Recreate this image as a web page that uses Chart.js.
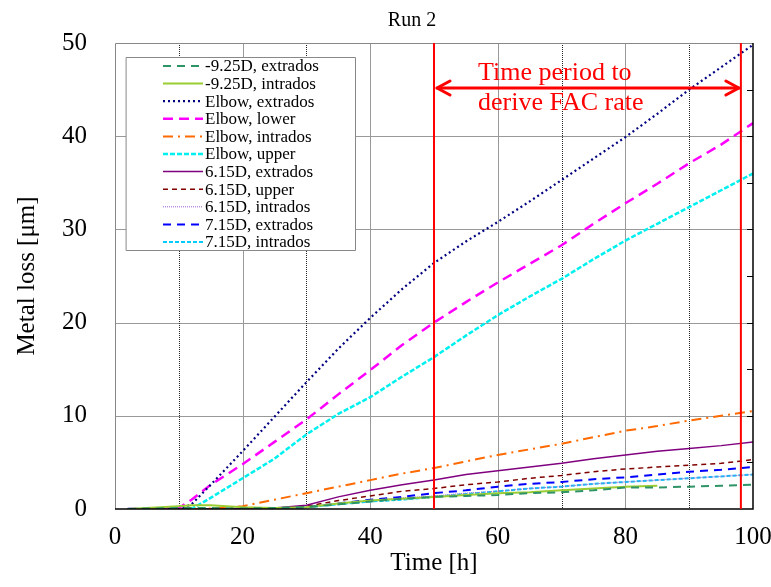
<!DOCTYPE html>
<html>
<head>
<meta charset="utf-8">
<script src="https://cdn.jsdelivr.net/npm/chart.js@4.4.0/dist/chart.umd.min.js"></script>
<style>
html, body { margin:0; padding:0; background:#fff; }
</style>
</head>
<body>
<canvas id="mycanvas" width="771" height="587"></canvas>
<script>
// metal loss [um] vs time [h], Run 2
var hours = [2, 5, 10, 12, 15, 20, 25, 30, 35, 40, 45, 50, 55, 60, 65, 70, 75, 80, 85, 90, 95, 100];

var m925Extrados  = [0, 0.05, 0.1, 0.1, 0.1, 0.05, 0.1, 0.2, 0.5, 0.8, 1.1, 1.3, 1.4, 1.5, 1.7, 1.8, 2.0, 2.3, 2.3, 2.4, 2.5, 2.6];
var m925Intrados  = [0, 0.1, 0.3, 0.4, 0.4, 0.2, 0.1, 0.2, 0.6, 0.9, 1.1, 1.3, 1.5, 1.7, 1.8, 2.0, 2.2, 2.4, 2.5, null, null, null];
var elbowExtrados = [0, 0, 0, 0.5, 2.6, 6.2, 9.9, 13.6, 17.2, 20.5, 23.6, 26.4, 28.7, 30.8, 33.0, 35.3, 37.6, 39.9, 42.4, 45.0, 47.4, 49.8];
var elbowLower    = [0, 0, 0.1, 1.0, 2.6, 4.8, 7.2, 9.6, 12.3, 14.9, 17.6, 20.0, 22.2, 24.3, 26.3, 28.3, 30.6, 32.8, 34.9, 37.1, 39.1, 41.4];
var elbowIntrados = [0, 0, 0, 0, 0.05, 0.3, 1.0, 1.7, 2.4, 3.1, 3.8, 4.4, 5.1, 5.8, 6.4, 7.0, 7.7, 8.4, 8.9, 9.5, 10.0, 10.5];
var elbowUpper    = [0, 0, 0, 0, 1.2, 3.3, 5.4, 8.0, 10.2, 12.0, 14.2, 16.3, 18.6, 20.8, 22.8, 24.7, 26.8, 28.8, 30.6, 32.4, 34.2, 36.0];
var d615Extrados  = [0, 0, 0, 0, 0, 0.05, 0.1, 0.4, 1.3, 2.0, 2.6, 3.1, 3.7, 4.1, 4.5, 4.9, 5.4, 5.8, 6.2, 6.5, 6.8, 7.2];
var d615Upper     = [0, 0, 0, 0, 0, 0, 0.05, 0.3, 0.9, 1.4, 1.9, 2.2, 2.6, 2.9, 3.3, 3.6, 4.0, 4.3, 4.5, 4.7, 4.9, 5.3];
var d615Intrados  = [0, 0, 0, 0, 0, 0, 0.05, 0.2, 0.6, 0.9, 1.2, 1.4, 1.7, 1.9, 2.2, 2.4, 2.7, 2.9, 3.1, 3.3, 3.5, 3.7];
var d715Extrados  = [0, 0, 0, 0, 0, 0, 0.05, 0.2, 0.6, 1.0, 1.3, 1.7, 2.0, 2.4, 2.7, 2.9, 3.2, 3.4, 3.7, 4.0, 4.2, 4.5];
var d715Intrados  = [0, 0, 0, 0, 0, 0, 0.05, 0.2, 0.5, 0.8, 1.0, 1.3, 1.6, 1.9, 2.2, 2.4, 2.7, 2.9, 3.1, 3.3, 3.5, 3.7];

var seriesNames = ['-9.25D, extrados', '-9.25D, intrados', 'Elbow, extrados', 'Elbow, lower',
	'Elbow, intrados', 'Elbow, upper', '6.15D, extrados', '6.15D, upper', '6.15D, intrados',
	'7.15D, extrados', '7.15D, intrados'];

// FAC rate window [h]
var periodStart = 50;
var periodEnd = 98.1;

var serif = "'Liberation Serif', 'Times New Roman', serif";

function pts(vals){
	var out = [];
	for(var i in hours){
		out.push({x: hours[i], y: vals[i]});
	}
	return out;
}

function ds(label, vals, color, width, dash){
	return {
		label: label,
		data: pts(vals),
		borderColor: color,
		borderWidth: width,
		borderDash: dash,
		pointRadius: 0,
		tension: 0,
		fill: false,
		spanGaps: false
	};
}

var chartdata = {
	datasets: [
		ds(seriesNames[0], m925Extrados, '#2e9466', 2, [8, 6]),
		ds(seriesNames[1], m925Intrados, '#9acd32', 2, []),
		ds(seriesNames[2], elbowExtrados, '#000080', 2.2, [2, 3]),
		ds(seriesNames[3], elbowLower, '#ff00ff', 2.5, [10, 6]),
		ds(seriesNames[4], elbowIntrados, '#ff6a00', 2, [10, 5, 2, 5]),
		ds(seriesNames[5], elbowUpper, '#00f0f0', 2.5, [5, 2]),
		ds(seriesNames[6], d615Extrados, '#800080', 1.5, []),
		ds(seriesNames[7], d615Upper, '#800000', 1.5, [5, 4]),
		ds(seriesNames[8], d615Intrados, '#9b5fd6', 1, [1, 1]),
		ds(seriesNames[9], d715Extrados, '#0000ff', 2, [8, 6]),
		ds(seriesNames[10], d715Intrados, '#00ccff', 2, [4, 2])
	]
};

// grid, frame, FAC window, title and legend
var decor = {
	id: 'decor',
	beforeDraw: function(chart){
		var ctx = chart.ctx;
		ctx.save();
		ctx.fillStyle = '#fff';
		ctx.fillRect(0, 0, chart.width, chart.height);
		ctx.restore();
	},
	beforeDatasetsDraw: function(chart){
		var ctx = chart.ctx, a = chart.chartArea;
		var xs = chart.scales.x, ys = chart.scales.y;
		ctx.save();
		for(var v = 10; v < 50; v += 10){
			var py = Math.round(ys.getPixelForValue(v)) + 0.5;
			ctx.strokeStyle = '#999';
			ctx.lineWidth = 1;
			ctx.setLineDash([]);
			ctx.beginPath(); ctx.moveTo(a.left, py); ctx.lineTo(a.right, py); ctx.stroke();
		}
		for(var t = 10; t < 100; t += 10){
			var px = Math.round(xs.getPixelForValue(t)) + 0.5;
			if(t % 20 == 0){
				ctx.strokeStyle = '#999';
				ctx.setLineDash([]);
			} else {
				ctx.strokeStyle = '#222';
				ctx.setLineDash([1, 1]);
			}
			ctx.lineWidth = 1;
			ctx.beginPath(); ctx.moveTo(px, a.top); ctx.lineTo(px, a.bottom); ctx.stroke();
		}
		ctx.restore();
	},
	afterDatasetsDraw: function(chart){
		var ctx = chart.ctx, a = chart.chartArea;
		var xs = chart.scales.x, ys = chart.scales.y;
		ctx.save();
		// frame
		ctx.setLineDash([]);
		ctx.lineWidth = 1;
		ctx.strokeStyle = '#888';
		ctx.beginPath();
		ctx.moveTo(a.left + 0.5, a.bottom); ctx.lineTo(a.left + 0.5, a.top + 0.5); ctx.lineTo(a.right, a.top + 0.5);
		ctx.stroke();
		ctx.strokeStyle = '#000';
		ctx.lineWidth = 1.5;
		ctx.beginPath();
		ctx.moveTo(a.left, a.bottom); ctx.lineTo(a.right, a.bottom); ctx.lineTo(a.right, a.top);
		ctx.stroke();
		// inward ticks on right edge
		ctx.lineWidth = 1;
		for(var v = 5; v < 50; v += 5){
			var py = Math.round(ys.getPixelForValue(v)) + 0.5;
			ctx.beginPath(); ctx.moveTo(a.right - 6, py); ctx.lineTo(a.right, py); ctx.stroke();
		}

		// FAC window lines
		ctx.strokeStyle = '#ff0000';
		ctx.lineWidth = 2;
		[periodStart, periodEnd].forEach(function(t){
			var px = xs.getPixelForValue(t);
			ctx.beginPath(); ctx.moveTo(px, a.top); ctx.lineTo(px, a.bottom); ctx.stroke();
		});
		var x1 = xs.getPixelForValue(periodStart) + 3;
		var x2 = xs.getPixelForValue(periodEnd) - 2;
		var ay = 88;
		ctx.lineWidth = 3;
		ctx.lineCap = 'round';
		ctx.lineJoin = 'round';
		ctx.beginPath(); ctx.moveTo(x1, ay); ctx.lineTo(x2, ay); ctx.stroke();
		ctx.beginPath(); ctx.moveTo(x1 + 13, ay - 7); ctx.lineTo(x1, ay); ctx.lineTo(x1 + 13, ay + 7); ctx.stroke();
		ctx.beginPath(); ctx.moveTo(x2 - 13, ay - 7); ctx.lineTo(x2, ay); ctx.lineTo(x2 - 13, ay + 7); ctx.stroke();
		ctx.fillStyle = '#ff0000';
		ctx.font = '26px ' + serif;
		ctx.textAlign = 'left';
		ctx.textBaseline = 'middle';
		ctx.fillText('Time period to', 478, 73);
		ctx.fillText('derive FAC rate', 478, 103);

		// title
		ctx.fillStyle = '#000';
		ctx.font = '20px ' + serif;
		ctx.textAlign = 'center';
		ctx.fillText('Run 2', 412, 21);

		// legend
		var lx = 126, ly = 57, lw = 229, lh = 193;
		ctx.fillStyle = '#fff';
		ctx.fillRect(lx, ly, lw, lh);
		ctx.strokeStyle = '#888';
		ctx.lineWidth = 1;
		ctx.strokeRect(lx + 0.5, ly + 0.5, lw, lh);
		ctx.font = '17px ' + serif;
		ctx.textAlign = 'left';
		chart.data.datasets.forEach(function(d, i){
			var ry = 66 + i * 17.6;
			ctx.strokeStyle = d.borderColor;
			ctx.lineWidth = d.borderWidth;
			ctx.setLineDash(d.borderDash);
			ctx.lineCap = 'butt';
			ctx.beginPath(); ctx.moveTo(163, ry); ctx.lineTo(203, ry); ctx.stroke();
			ctx.setLineDash([]);
			ctx.fillStyle = '#000';
			ctx.fillText(d.label, 205, ry + 1);
		});
		ctx.restore();
	}
};

var ctx = document.getElementById('mycanvas');
var lineGraph = new Chart(ctx, {
	type: 'line',
	data: chartdata,
	plugins: [decor],
	options: {
		responsive: false,
		animation: false,
		devicePixelRatio: 1,
		layout: { padding: { left: 0, right: 18, top: 43, bottom: 0 } },
		plugins: {
			legend: { display: false },
			title: { display: false },
			tooltip: { enabled: false }
		},
		scales: {
			x: {
				type: 'linear',
				min: 0,
				max: 100,
				grid: { display: false },
				border: { display: false },
				ticks: { stepSize: 20, color: '#000', padding: 5, maxRotation: 0, font: { family: serif, size: 25 } },
				title: { display: true, text: 'Time [h]', color: '#000', padding: { top: 0, bottom: 9 }, font: { family: serif, size: 25 } },
				afterFit: function(s){ s.height = 78; s.paddingLeft = 0; s.paddingRight = 0; }
			},
			y: {
				min: 0,
				max: 50,
				grid: { display: false },
				border: { display: false },
				ticks: { stepSize: 10, color: '#000', padding: 20, font: { family: serif, size: 25 } },
				title: { display: true, text: 'Metal loss [μm]', color: '#000', padding: { top: 12, bottom: 0 }, font: { family: serif, size: 25 } },
				afterFit: function(s){ s.width = 115; s.paddingTop = 0; s.paddingBottom = 0; }
			}
		}
	}
});
</script>
</body>
</html>
